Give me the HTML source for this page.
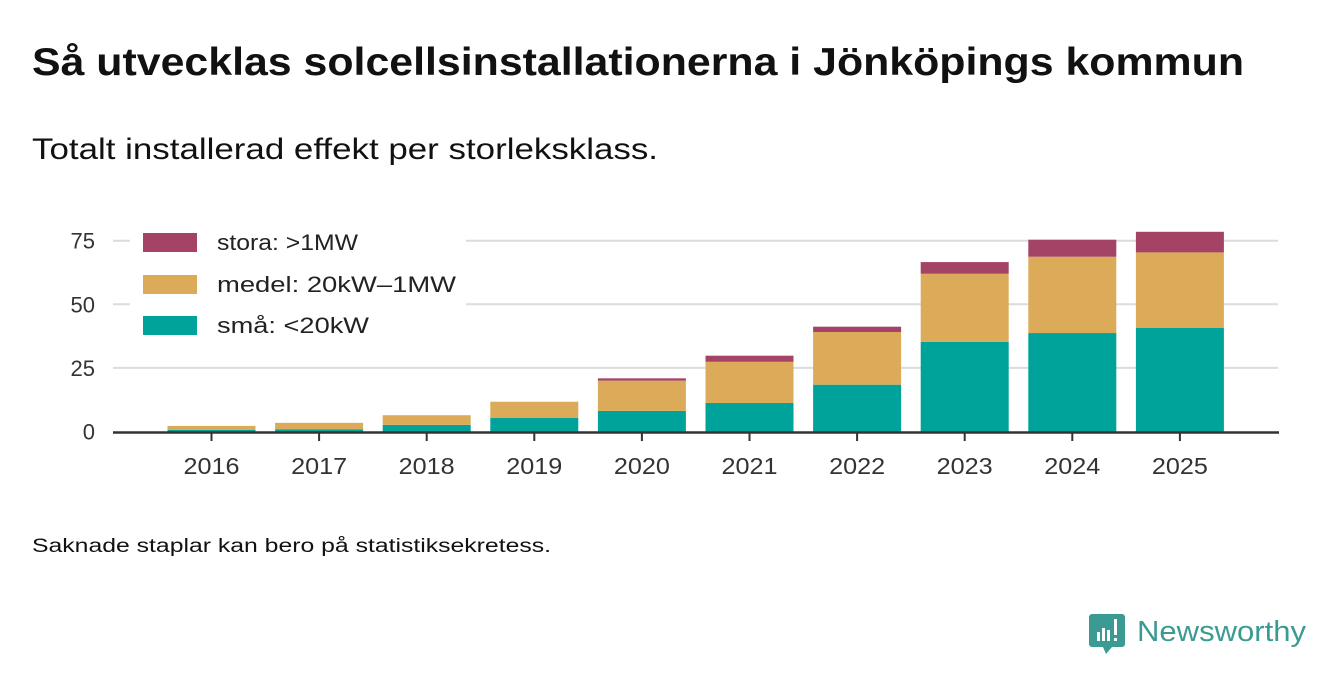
<!DOCTYPE html>
<html><head><meta charset="utf-8"><style>
html,body{margin:0;padding:0;background:#fff;}
svg{display:block;font-family:"Liberation Sans","DejaVu Sans",sans-serif;}
</style></head><body>
<svg id="chart" width="1340" height="685" viewBox="0 0 1340 685">
<text x="32" y="75" font-size="39" font-weight="bold" fill="#111" textLength="1212" lengthAdjust="spacingAndGlyphs">Så utvecklas solcellsinstallationerna i Jönköpings kommun</text>
<text x="32" y="159" font-size="30" fill="#111" textLength="626" lengthAdjust="spacingAndGlyphs">Totalt installerad effekt per storleksklass.</text>
<g id="grid"></g>
<g id="bars"></g>
<g id="axes"></g>
<g>
<rect x="130" y="226" width="336" height="118" fill="#fff"/>
<rect x="143" y="233" width="54" height="19" fill="#a54366"/>
<text x="217" y="250" font-size="22" fill="#222" textLength="141" lengthAdjust="spacingAndGlyphs">stora: &gt;1MW</text>
<rect x="143" y="275" width="54" height="19" fill="#dbab59"/>
<text x="217" y="292" font-size="22" fill="#222" textLength="239" lengthAdjust="spacingAndGlyphs">medel: 20kW–1MW</text>
<rect x="143" y="316" width="54" height="19" fill="#00a39a"/>
<text x="217" y="333" font-size="22" fill="#222" textLength="152" lengthAdjust="spacingAndGlyphs">små: &lt;20kW</text>
</g>
<text x="32" y="552" font-size="19" fill="#111" textLength="519" lengthAdjust="spacingAndGlyphs">Saknade staplar kan bero på statistiksekretess.</text>
<g>
<path d="M1092 614 h30 a3 3 0 0 1 3 3 v27 a3 3 0 0 1 -3 3 h-10 l-6 7 l-3 -7 h-11 a3 3 0 0 1 -3 -3 v-27 a3 3 0 0 1 3 -3z" fill="#3b9b92"/>
<rect x="1097" y="632" width="3" height="9" fill="#fff"/><rect x="1102" y="628" width="3" height="13" fill="#fff"/><rect x="1107" y="630" width="3" height="11" fill="#fff"/><rect x="1114" y="619" width="3" height="16" fill="#fff"/><rect x="1114" y="638" width="3" height="3" fill="#fff"/>
<text x="1137" y="641" font-size="29" fill="#3b9b92" textLength="169" lengthAdjust="spacingAndGlyphs">Newsworthy</text>
</g>
</svg>
<script>
const years = ["2016","2017","2018","2019","2020","2021","2022","2023","2024","2025"];
const sma = [0.6,0.9,2.6,5.3,8.1,11.2,18.4,35.2,38.7,40.8];
const medel = [1.6,2.5,3.8,6.4,11.9,16.2,20.7,26.8,30.0,29.6];
const stora = [0,0,0,0,0.9,2.4,2.1,4.6,6.7,8.1];
const yTicks = [0,25,50,75];

const NS="http://www.w3.org/2000/svg";
function y(v){return 431.5 - v*2.544;}
function x(i){return 211.5 + i*107.6;}
const bw=88;
const grid=document.getElementById('grid'),bars=document.getElementById('bars'),axes=document.getElementById('axes');
function mk(tag,attrs,parent){const e=document.createElementNS(NS,tag);for(const k in attrs)e.setAttribute(k,attrs[k]);parent.appendChild(e);return e;}
yTicks.forEach(t=>{
  if(t>0){const l=mk('line',{x1:113,x2:1278,y1:y(t),y2:y(t),stroke:'#dcdcdc','stroke-width':2},grid);
  
  }
  const tx=mk('text',{x:95,y:y(t)+8,'font-size':22,fill:'#333','text-anchor':'end'},axes);
  tx.textContent=t;
  
  
});
const series=[[sma,'#00a39a','sma'],[medel,'#dbab59','medel'],[stora,'#a54366','stora']];
years.forEach((yr,i)=>{
  let base=0;
  series.forEach(([arr,col,nm])=>{
    const v=arr[i];
    if(v>0){
      const r=mk('rect',{x:x(i)-bw/2,y:y(base+v),width:bw,height:y(base)-y(base+v),fill:col},bars);
      
      
    }
    base+=v;
  });
  const tk=mk('line',{x1:x(i),x2:x(i),y1:432,y2:441,stroke:'#333','stroke-width':2},axes);
  
  
  const lb=mk('text',{x:x(i),y:474,'font-size':23,fill:'#333','text-anchor':'middle',textLength:56,lengthAdjust:'spacingAndGlyphs'},axes);
  lb.textContent=yr;
  
  
});
const ax=mk('line',{x1:113,x2:1279,y1:432.5,y2:432.5,stroke:'#333','stroke-width':2.5},axes);


</script>
</body></html>
